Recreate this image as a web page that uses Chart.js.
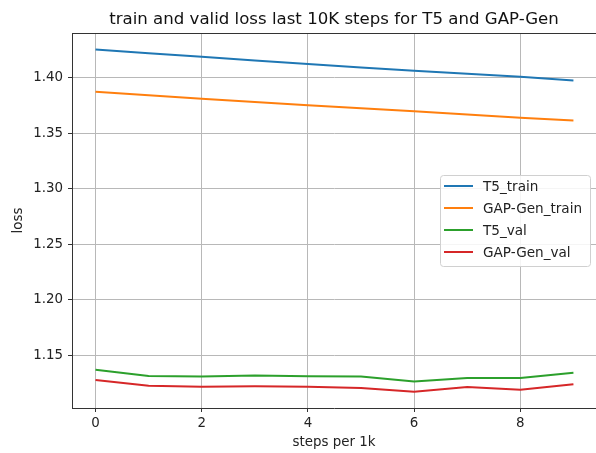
<!DOCTYPE html>
<html>
<head>
<meta charset="utf-8">
<script src="https://cdn.jsdelivr.net/npm/chart.js@4.4.0/dist/chart.umd.min.js"></script>
<style>
  html, body { margin: 0; padding: 0; background: #fff; }
  canvas { display: block; }
</style>
</head>
<body>
<canvas id="lossChart" width="596" height="453"></canvas>
<script>
// data
const steps = [0, 1, 2, 3, 4, 5, 6, 7, 8, 9];
const t5Train = [1.4256, 1.4222, 1.4189, 1.4157, 1.4125, 1.4094, 1.4064, 1.4036, 1.4009, 1.3976];
const gapTrain = [1.3875, 1.3843, 1.3811, 1.3782, 1.3753, 1.3725, 1.3698, 1.3669, 1.3640, 1.3616];
const t5Val = [1.1368, 1.1313, 1.1308, 1.1317, 1.1311, 1.1308, 1.1262, 1.1295, 1.1295, 1.1341];
const gapVal = [1.1277, 1.1225, 1.1216, 1.1219, 1.1216, 1.1204, 1.1170, 1.1213, 1.1189, 1.1238];
const xTicks = [0, 2, 4, 6, 8];
const yTicks = [1.15, 1.20, 1.25, 1.30, 1.35, 1.40];

const FONT = 'DejaVu Sans';

function pts(ys) {
  return steps.map((s, i) => ({ x: s, y: ys[i] }));
}

function series(label, ys, color) {
  return {
    label: label,
    data: pts(ys),
    borderColor: color,
    backgroundColor: color,
    borderWidth: 2,
    pointRadius: 0,
    tension: 0,
    fill: false
  };
}

// top spine (right one falls off the picture in the reference)
const frame = {
  id: 'frame',
  afterDraw(chart) {
    const { ctx, chartArea: a } = chart;
    ctx.save();
    ctx.strokeStyle = '#333';
    ctx.lineWidth = 1;
    ctx.beginPath();
    ctx.moveTo(a.left, a.top + 0.5);
    ctx.lineTo(a.right, a.top + 0.5);
    ctx.stroke();
    ctx.restore();
  }
};

// legend drawn inside the axes, like matplotlib's
const innerLegend = {
  id: 'innerLegend',
  afterDraw(chart) {
    const ctx = chart.ctx;
    const sets = chart.data.datasets;
    const x = 440, y = 175.5, w = 150, h = 91;
    ctx.save();
    ctx.fillStyle = 'rgba(255,255,255,0.85)';
    ctx.strokeStyle = '#d0d0d0';
    ctx.lineWidth = 1;
    ctx.beginPath();
    ctx.roundRect(x + 0.5, y, w, h, 3);
    ctx.fill();
    ctx.stroke();
    ctx.font = '13.6px "' + FONT + '"';
    ctx.textBaseline = 'middle';
    sets.forEach((ds, i) => {
      const cy = 186 + i * 22;
      ctx.strokeStyle = ds.borderColor;
      ctx.lineWidth = 2;
      ctx.beginPath();
      ctx.moveTo(444, cy);
      ctx.lineTo(473, cy);
      ctx.stroke();
      ctx.fillStyle = '#222';
      ctx.fillText(ds.label, 483, cy + 1);
    });
    ctx.restore();
  }
};

new Chart(document.getElementById('lossChart').getContext('2d'), {
  type: 'line',
  data: {
    datasets: [
      series('T5_train', t5Train, '#1f77b4'),
      series('GAP-Gen_train', gapTrain, '#ff7f0e'),
      series('T5_val', t5Val, '#2ca02c'),
      series('GAP-Gen_val', gapVal, '#d62728')
    ]
  },
  options: {
    responsive: false,
    animation: false,
    layout: { padding: 0 },
    plugins: {
      legend: { display: false },
      tooltip: { enabled: false },
      title: {
        display: true,
        fullSize: false,
        text: 'train and valid loss last 10K steps for T5 and GAP-Gen',
        color: '#111',
        align: 'center',
        font: { family: FONT, size: 16.6, weight: 'normal', lineHeight: '20px' },
        padding: { top: 10, bottom: 3 }
      }
    },
    scales: {
      x: {
        type: 'linear',
        min: -0.443,
        max: 9.425,
        afterBuildTicks: (s) => { s.ticks = xTicks.map(v => ({ value: v })); },
        afterFit: (s) => { s.height = 45; },
        ticks: {
          color: '#222',
          padding: 3,
          font: { family: FONT, size: 13.4 },
          callback: (v) => String(v)
        },
        grid: {
          color: '#b8b8b8',
          lineWidth: 1,
          drawTicks: true,
          tickLength: 4,
          tickColor: '#333'
        },
        border: { display: true, color: '#333', width: 1 },
        title: {
          display: true,
          text: 'steps per 1k',
          color: '#222',
          font: { family: FONT, size: 13.4 },
          padding: { top: 0, bottom: 2 }
        }
      },
      y: {
        type: 'linear',
        min: 1.1024,
        max: 1.4404,
        afterBuildTicks: (s) => { s.ticks = yTicks.map(v => ({ value: v })); },
        afterFit: (s) => { s.width = 72; },
        ticks: {
          color: '#222',
          padding: 5,
          font: { family: FONT, size: 13.4 },
          callback: (v) => Number(v).toFixed(2)
        },
        grid: {
          color: '#b8b8b8',
          lineWidth: 1,
          drawTicks: true,
          tickLength: 4,
          tickColor: '#333'
        },
        border: { display: true, color: '#333', width: 1 },
        title: {
          display: true,
          text: 'loss',
          color: '#222',
          font: { family: FONT, size: 13.4 },
          padding: { top: 10, bottom: 0 }
        }
      }
    }
  },
  plugins: [frame, innerLegend]
});
</script>
</body>
</html>
